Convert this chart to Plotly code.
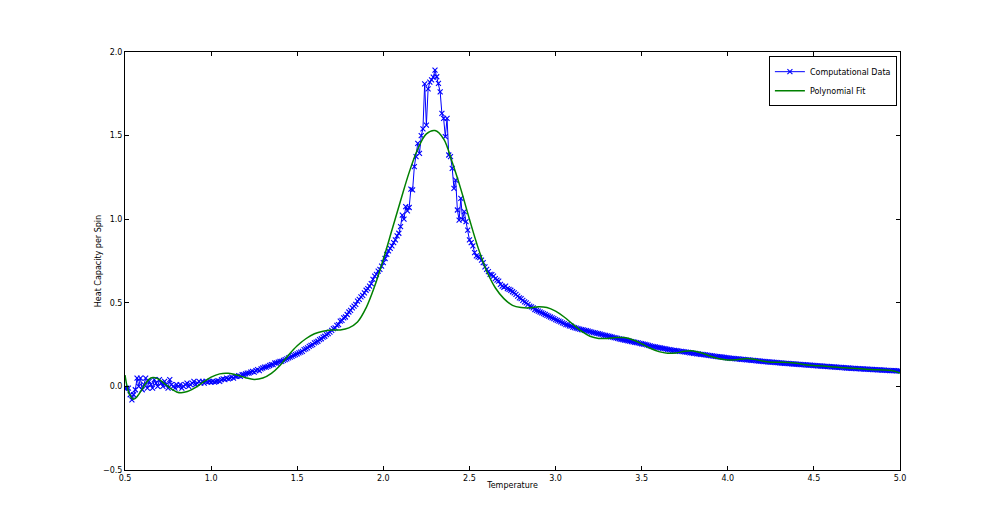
import numpy as np
import plotly.graph_objects as go

# Temperatures of the computational data (step 0.01 from 0.5 to 5.0)
temperature = np.round(np.arange(0.50, 5.0001, 0.01), 2)

heat_capacity = [
    # 0.50 - 0.99
    -0.01, -0.01, -0.01, -0.05, -0.08, -0.05, -0.02, 0.05, 0.0, 0.05,
    -0.02, 0.01, 0.05, -0.01, 0.03, 0.01, -0.01, 0.04, 0.02, 0.0,
    0.04, 0.02, 0.0, 0.03, 0.01, -0.01, 0.04, 0.01, 0.0, -0.01,
    0.01, 0.0, 0.01, -0.01, 0.0, 0.01, 0.02, 0.0, 0.01, 0.02,
    0.03, 0.01, 0.02, 0.03, 0.02, 0.03, 0.02, 0.03, 0.025, 0.03,
    # 1.00 - 1.49
    0.025, 0.03, 0.025, 0.03, 0.035, 0.03, 0.04, 0.045, 0.04, 0.05,
    0.045, 0.05, 0.055, 0.05, 0.06, 0.06, 0.065, 0.06, 0.07, 0.07,
    0.075, 0.08, 0.08, 0.085, 0.09, 0.085, 0.095, 0.1, 0.095, 0.105,
    0.11, 0.115, 0.115, 0.12, 0.125, 0.13, 0.13, 0.14, 0.14, 0.145,
    0.15, 0.15, 0.155, 0.16, 0.165, 0.17, 0.175, 0.18, 0.185, 0.19,
    # 1.50 - 1.99
    0.195, 0.2, 0.205, 0.21, 0.22, 0.225, 0.23, 0.24, 0.245, 0.25,
    0.26, 0.265, 0.27, 0.28, 0.285, 0.295, 0.3, 0.31, 0.315, 0.325,
    0.335, 0.345, 0.35, 0.365, 0.37, 0.39, 0.395, 0.41, 0.415, 0.43,
    0.445, 0.455, 0.47, 0.48, 0.49, 0.51, 0.52, 0.535, 0.545, 0.56,
    0.575, 0.585, 0.6, 0.615, 0.64, 0.66, 0.67, 0.69, 0.7, 0.72,
    # 2.00 - 2.49
    0.74, 0.765, 0.79, 0.81, 0.826, 0.84, 0.86, 0.876, 0.9, 0.916,
    0.955, 1.025, 1.0, 1.075, 1.05, 1.07, 1.18, 1.175, 1.314, 1.374,
    1.454, 1.394, 1.5, 1.54, 1.81, 1.563, 1.78, 1.82, 1.833, 1.85,
    1.892, 1.852, 1.813, 1.762, 1.633, 1.603, 1.494, 1.603, 1.384, 1.374,
    1.304, 1.185, 1.234, 1.055, 0.995, 1.125, 0.997, 1.045, 0.985, 0.935,
    # 2.50 - 2.99
    0.876, 0.86, 0.84, 0.8, 0.78, 0.775, 0.77, 0.755, 0.74, 0.715,
    0.7, 0.686, 0.67, 0.668, 0.66, 0.645, 0.635, 0.63, 0.61, 0.6,
    0.593, 0.6, 0.585, 0.58, 0.575, 0.566, 0.56, 0.55, 0.54, 0.53,
    0.525, 0.515, 0.505, 0.5, 0.49, 0.48, 0.475, 0.47, 0.46, 0.455,
    0.45, 0.445, 0.44, 0.435, 0.43, 0.425, 0.42, 0.415, 0.41, 0.405,
    # 3.00 - 3.49
    0.4, 0.395, 0.39, 0.386, 0.38, 0.375, 0.37, 0.368, 0.362, 0.36,
    0.355, 0.352, 0.348, 0.346, 0.342, 0.34, 0.338, 0.335, 0.333, 0.33,
    0.328, 0.325, 0.322, 0.32, 0.317, 0.315, 0.312, 0.31, 0.307, 0.305,
    0.302, 0.3, 0.297, 0.295, 0.292, 0.29, 0.287, 0.284, 0.282, 0.28,
    0.277, 0.275, 0.273, 0.271, 0.268, 0.266, 0.264, 0.262, 0.26, 0.257,
    # 3.50 - 3.99
    0.255, 0.253, 0.251, 0.248, 0.246, 0.243, 0.24, 0.238, 0.236, 0.234,
    0.232, 0.23, 0.228, 0.226, 0.224, 0.222, 0.22, 0.218, 0.216, 0.215,
    0.214, 0.212, 0.21, 0.209, 0.208, 0.206, 0.205, 0.203, 0.201, 0.2,
    0.198, 0.197, 0.195, 0.194, 0.192, 0.191, 0.19, 0.188, 0.187, 0.186,
    0.184, 0.183, 0.181, 0.18, 0.178, 0.177, 0.176, 0.175, 0.174, 0.172,
    # 4.00 - 4.49
    0.17, 0.169, 0.168, 0.167, 0.166, 0.165, 0.164, 0.163, 0.162, 0.161,
    0.16, 0.159, 0.158, 0.157, 0.156, 0.155, 0.154, 0.153, 0.152, 0.151,
    0.15, 0.149, 0.148, 0.147, 0.146, 0.145, 0.145, 0.144, 0.143, 0.142,
    0.141, 0.14, 0.139, 0.138, 0.138, 0.137, 0.136, 0.135, 0.134, 0.134,
    0.133, 0.132, 0.131, 0.13, 0.13, 0.129, 0.128, 0.127, 0.127, 0.126,
    # 4.50 - 5.00
    0.125, 0.124, 0.123, 0.123, 0.122, 0.121, 0.12, 0.12, 0.119, 0.118,
    0.117, 0.117, 0.116, 0.115, 0.114, 0.114, 0.113, 0.112, 0.111, 0.11,
    0.11, 0.109, 0.108, 0.108, 0.107, 0.106, 0.106, 0.105, 0.105, 0.104,
    0.103, 0.103, 0.102, 0.102, 0.101, 0.1, 0.1, 0.099, 0.099, 0.098,
    0.097, 0.097, 0.096, 0.096, 0.095, 0.095, 0.094, 0.094, 0.093, 0.093,
    0.092,
]

fit_temperature = [
    0.500, 0.525, 0.550, 0.575, 0.600, 0.625, 0.650, 0.675, 0.700, 0.725,
    0.750, 0.775, 0.800, 0.825, 0.850, 0.875, 0.900, 0.950, 1.000, 1.050,
    1.100, 1.150, 1.200, 1.250, 1.300, 1.350, 1.400, 1.450, 1.500, 1.550,
    1.600, 1.650, 1.700, 1.750, 1.800, 1.850, 1.900, 1.950, 2.000, 2.050,
    2.100, 2.150, 2.200, 2.250, 2.300, 2.350, 2.400, 2.450, 2.500, 2.550,
    2.600, 2.650, 2.700, 2.750, 2.800, 2.850, 2.900, 2.950, 3.000, 3.050,
    3.100, 3.150, 3.200, 3.250, 3.300, 3.350, 3.400, 3.450, 3.500, 3.550,
    3.600, 3.650, 3.700, 3.750, 3.800, 3.850, 3.900, 3.950, 4.000, 4.050,
    4.100, 4.150, 4.200, 4.250, 4.300, 4.350, 4.400, 4.450, 4.500, 4.550,
    4.600, 4.650, 4.700, 4.750, 4.800, 4.850, 4.900, 4.950, 5.000,
]
fit_values = [
    0.068, -0.045, -0.077, -0.055, -0.015, 0.025, 0.050, 0.052, 0.040, 0.020,
    0.000, -0.020, -0.033, -0.038, -0.034, -0.025, -0.012, 0.022, 0.055, 0.075,
    0.078, 0.068, 0.052, 0.042, 0.050, 0.078, 0.125, 0.188, 0.243, 0.285,
    0.315, 0.330, 0.337, 0.338, 0.350, 0.385, 0.470, 0.600, 0.760, 0.935,
    1.110, 1.280, 1.420, 1.510, 1.530, 1.480, 1.340, 1.180, 1.000, 0.830,
    0.690, 0.590, 0.525, 0.485, 0.472, 0.470, 0.477, 0.472, 0.450, 0.415,
    0.372, 0.330, 0.300, 0.287, 0.287, 0.292, 0.292, 0.278, 0.255, 0.228,
    0.208, 0.198, 0.200, 0.210, 0.212, 0.200, 0.180, 0.165, 0.158, 0.160,
    0.166, 0.163, 0.152, 0.145, 0.144, 0.143, 0.138, 0.130, 0.125, 0.122,
    0.118, 0.113, 0.110, 0.107, 0.103, 0.100, 0.098, 0.095, 0.080,
]

x_ticks = [0.5, 1.0, 1.5, 2.0, 2.5, 3.0, 3.5, 4.0, 4.5, 5.0]
y_ticks = [-0.5, 0.0, 0.5, 1.0, 1.5, 2.0]

FONT = "DejaVu Sans"

fig = go.Figure()
fig.add_trace(go.Scatter(
    x=temperature, y=heat_capacity, mode="lines+markers",
    name="Computational Data",
    line=dict(color="#0000ff", width=1),
    marker=dict(symbol="x-thin", size=5, color="#0000ff",
                line=dict(color="#0000ff", width=1.1)),
))
fig.add_trace(go.Scatter(
    x=fit_temperature, y=fit_values, mode="lines",
    name="Polynomial Fit", line=dict(color="#008000", width=1.5, shape="spline"),
))

axis_common = dict(
    showgrid=False, zeroline=False, showline=True, linecolor="#000000",
    linewidth=1, mirror="allticks", ticks="inside", ticklen=4,
    tickcolor="#000000", tickfont=dict(family=FONT, size=8, color="#000000"),
    tickformat=".1f", automargin=False,
)

fig.update_layout(
    width=992, height=515,
    margin=dict(l=117, r=100, t=44, b=53),
    paper_bgcolor="#ffffff", plot_bgcolor="#ffffff",
    font=dict(family=FONT, size=8, color="#000000"),
    xaxis=dict(range=[0.5, 5.0], tickvals=x_ticks, **axis_common,
               title=dict(text="Temperature", font=dict(family=FONT, size=8), standoff=0)),
    yaxis=dict(range=[-0.5, 2.0], tickvals=y_ticks, **axis_common,
               title=dict(text="Heat Capacity per Spin", font=dict(family=FONT, size=8), standoff=0)),
    legend=dict(x=0.996, y=0.99, xanchor="right", yanchor="top",
                bgcolor="#ffffff", bordercolor="#000000", borderwidth=1,
                font=dict(family=FONT, size=8, color="#000000"),
                tracegroupgap=0, itemwidth=30),
    showlegend=True,
)

fig.write_html("out.html")
